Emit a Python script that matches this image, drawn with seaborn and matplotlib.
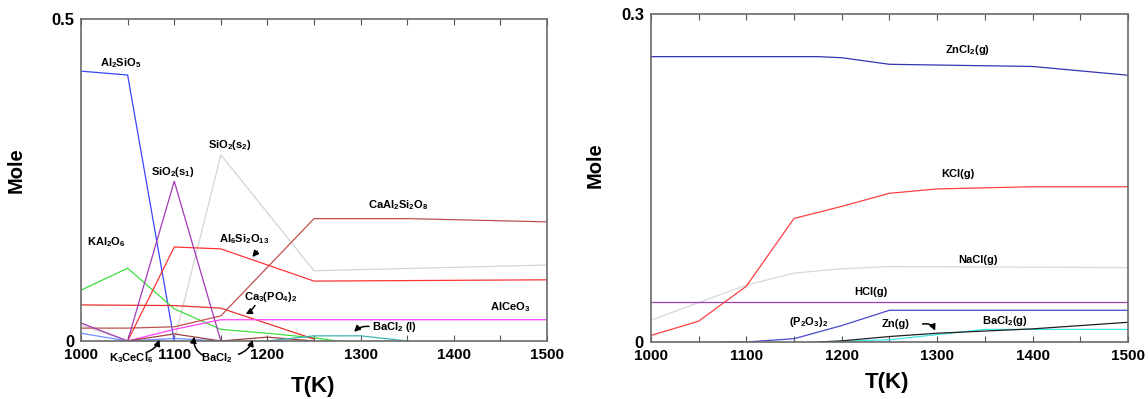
import numpy as np
import pandas as pd
import seaborn as sns
import matplotlib.pyplot as plt

# ---- left panel: condensed phases (mole vs T) ----
al2sio5_t = [1000, 1050, 1100]
al2sio5 = [0.419, 0.413, 0.0]
sio2_s1_t = [1000, 1050, 1100, 1150]
sio2_s1 = [0.028, 0.0, 0.248, 0.0]
sio2_s2_t = [1000, 1050, 1100, 1150, 1250, 1500]
sio2_s2 = [0.025, 0.0, 0.0, 0.289, 0.109, 0.118]
caal2si2o8_t = [1000, 1050, 1100, 1150, 1250, 1350, 1500]
caal2si2o8 = [0.020, 0.020, 0.022, 0.039, 0.190, 0.190, 0.185]
al6si2o13_t = [1050, 1100, 1150, 1250, 1500]
al6si2o13 = [0.0, 0.146, 0.143, 0.093, 0.095]
kal2o6_t = [1000, 1050, 1100, 1150, 1200, 1250, 1275]
kal2o6 = [0.079, 0.113, 0.050, 0.018, 0.012, 0.005, 0.0]
ca3po42_t = [1000, 1100, 1150, 1250]
ca3po42 = [0.056, 0.055, 0.051, 0.003]
alceo3_t = [1050, 1100, 1150, 1500]
alceo3 = [0.0, 0.018, 0.033, 0.033]
k3cecl6_t = [1000, 1050, 1100, 1150]
k3cecl6 = [0.012, 0.0, 0.004, 0.0]
bacl2_t = [1050, 1100, 1150, 1200, 1250]
bacl2 = [0.0, 0.011, 0.0, 0.006, 0.0]
bacl2_l_t = [1200, 1250, 1300, 1350]
bacl2_l = [0.0, 0.008, 0.008, 0.0]

# ---- right panel: gas phases ----
zncl2_t = [1000, 1175, 1200, 1250, 1400, 1500]
zncl2 = [0.261, 0.261, 0.260, 0.254, 0.252, 0.244]
kcl_t = [1000, 1050, 1100, 1150, 1200, 1250, 1300, 1350, 1400, 1500]
kcl = [0.006, 0.019, 0.051, 0.113, 0.124, 0.136, 0.140, 0.141, 0.142, 0.142]
nacl_t = [1000, 1100, 1150, 1200, 1250, 1500]
nacl = [0.020, 0.052, 0.063, 0.067, 0.069, 0.068]
hcl_t = [1000, 1500]
hcl = [0.037, 0.037]
p2o3_t = [1075, 1100, 1150, 1200, 1250, 1500]
p2o3 = [0.0, 0.0, 0.003, 0.015, 0.029, 0.029]
zn_t = [1175, 1200, 1250, 1300, 1350, 1400, 1450, 1500]
zn = [0.0, 0.001, 0.005, 0.008, 0.010, 0.012, 0.015, 0.018]
bacl2_g_t = [1175, 1250, 1350, 1500]
bacl2_g = [0.0, 0.002, 0.0115, 0.0115]

sns.set_style('white')
plt.rcParams['font.family'] = ['Liberation Sans', 'DejaVu Sans']
plt.rcParams['font.weight'] = 'bold'
plt.rcParams['axes.labelweight'] = 'bold'
for key in ['text.color', 'axes.labelcolor', 'xtick.color', 'ytick.color']:
    plt.rcParams[key] = 'black'
plt.rcParams['mathtext.fontset'] = 'custom'
plt.rcParams['mathtext.rm'] = 'Liberation Sans:bold'
plt.rcParams['mathtext.bf'] = 'Liberation Sans:bold'
plt.rcParams['mathtext.it'] = 'Liberation Sans:bold'
plt.rcParams['mathtext.default'] = 'rm'


def draw(ax, t, y, color):
    sns.lineplot(x=t, y=y, ax=ax, color=color, lw=0.9, estimator=None, sort=False)


def style_axes(ax, ytop, ylab):
    ax.set_xlim(1000, 1500)
    ax.set_ylim(0, ytop)
    ticks = list(range(1000, 1501, 50))
    ax.set_xticks(ticks)
    ax.set_xticklabels([str(t) if t % 100 == 0 else '' for t in ticks])
    ax.set_yticks([0, ytop])
    ax.set_yticklabels(['0', ylab])
    ax.tick_params(axis='x', direction='in', top=True, bottom=True, length=4,
                   width=0.8, color='#555555', labelcolor='black', labelsize=11, pad=5)
    ax.tick_params(axis='y', length=0, labelsize=12, labelcolor='black', pad=5)
    for s in ax.spines.values():
        s.set_visible(True)
        s.set_color('#6a6a6a')
        s.set_linewidth(1.2)
    ax.set_xlabel('T(K)', fontsize=16, color='black')
    ax.set_ylabel('Mole', fontsize=14.5, color='black')


def arrow(ax, start, end, rad):
    ax.annotate('', xy=end, xytext=start,
                arrowprops=dict(arrowstyle='-|>,head_length=0.35,head_width=0.18',
                                connectionstyle=f'arc3,rad={rad}', color='black', lw=1.1))


fig = plt.figure(figsize=(11.48, 3.99), dpi=100)
ax1 = fig.add_axes([0.0706, 0.1454, 0.4059, 0.807])
ax2 = fig.add_axes([0.567, 0.1429, 0.4155, 0.822])

# left
draw(ax1, sio2_s2_t, sio2_s2, '#d4d4d4')
draw(ax1, k3cecl6_t, k3cecl6, '#6f8fff')
draw(ax1, al2sio5_t, al2sio5, '#3a46ff')
draw(ax1, kal2o6_t, kal2o6, '#3ee03e')
draw(ax1, ca3po42_t, ca3po42, '#e8302c')
draw(ax1, caal2si2o8_t, caal2si2o8, '#c05050')
draw(ax1, al6si2o13_t, al6si2o13, '#ff3434')
draw(ax1, sio2_s1_t, sio2_s1, '#a33ab8')
draw(ax1, alceo3_t, alceo3, '#ff40ff')
draw(ax1, bacl2_t, bacl2, '#a04040')
draw(ax1, bacl2_l_t, bacl2_l, '#3fb3b3')
style_axes(ax1, 0.5, '0.5')
ax1.xaxis.set_label_coords(0.498, -0.11)
ax1.yaxis.set_label_coords(-0.118, 0.53)

fs = 8
ax1.text(1043, 0.432, r'Al$_2$SiO$_5$', fontsize=fs, ha='center', va='center')
ax1.text(1098, 0.262, r'SiO$_2$(s$_1$)', fontsize=fs, ha='center', va='center')
ax1.text(1160, 0.304, r'SiO$_2$(s$_2$)', fontsize=fs, ha='center', va='center')
ax1.text(1340, 0.211, r'CaAl$_2$Si$_2$O$_8$', fontsize=fs, ha='center', va='center')
ax1.text(1027, 0.154, r'KAl$_2$O$_6$', fontsize=fs, ha='center', va='center')
ax1.text(1175, 0.158, r'Al$_6$Si$_2$O$_{13}$', fontsize=fs, ha='center', va='center')
ax1.text(1204, 0.068, r'Ca$_3$(PO$_4$)$_2$', fontsize=fs, ha='center', va='center')
ax1.text(1460, 0.053, r'AlCeO$_3$', fontsize=fs, ha='center', va='center')
ax1.text(1336, 0.021, r'BaCl$_2$ (l)', fontsize=fs, ha='center', va='center')
ax1.text(1054, -0.027, r'K$_3$CeCl$_6$', fontsize=fs, ha='center', va='center')
ax1.text(1146, -0.027, r'BaCl$_2$', fontsize=fs, ha='center', va='center')
arrow(ax1, (1191, 0.143), (1182, 0.127), 0.0)
arrow(ax1, (1188, 0.059), (1174, 0.040), -0.2)
arrow(ax1, (1067, -0.019), (1085, 0.006), 0.3)
arrow(ax1, (1134, -0.025), (1122, 0.011), -0.4)
arrow(ax1, (1166, -0.022), (1185, 0.006), 0.3)
arrow(ax1, (1312, 0.022), (1291, 0.011), 0.3)

# right
draw(ax2, nacl_t, nacl, '#d8d8d8')
draw(ax2, hcl_t, hcl, '#a040b0')
draw(ax2, kcl_t, kcl, '#ff4040')
draw(ax2, zncl2_t, zncl2, '#3434b0')
draw(ax2, p2o3_t, p2o3, '#4848c8')
draw(ax2, bacl2_g_t, bacl2_g, '#3fe6e6')
draw(ax2, zn_t, zn, '#202020')
style_axes(ax2, 0.3, '0.3')
ax2.xaxis.set_label_coords(0.495, -0.09)
ax2.yaxis.set_label_coords(-0.096, 0.54)

ax2.text(1332, 0.267, r'ZnCl$_2$(g)', fontsize=fs, ha='center', va='center')
ax2.text(1322, 0.154, 'KCl(g)', fontsize=fs, ha='center', va='center')
ax2.text(1343, 0.075, 'NaCl(g)', fontsize=fs, ha='center', va='center')
ax2.text(1231, 0.046, 'HCl(g)', fontsize=fs, ha='center', va='center')
ax2.text(1165, 0.018, r'(P$_2$O$_3$)$_2$', fontsize=fs, ha='center', va='center')
ax2.text(1256, 0.016, 'Zn(g)', fontsize=fs, ha='center', va='center')
ax2.text(1371, 0.019, r'BaCl$_2$(g)', fontsize=fs, ha='center', va='center')
arrow(ax2, (1282, 0.0158), (1299, 0.008), -0.5)

fig.savefig('out.png', dpi=100)
